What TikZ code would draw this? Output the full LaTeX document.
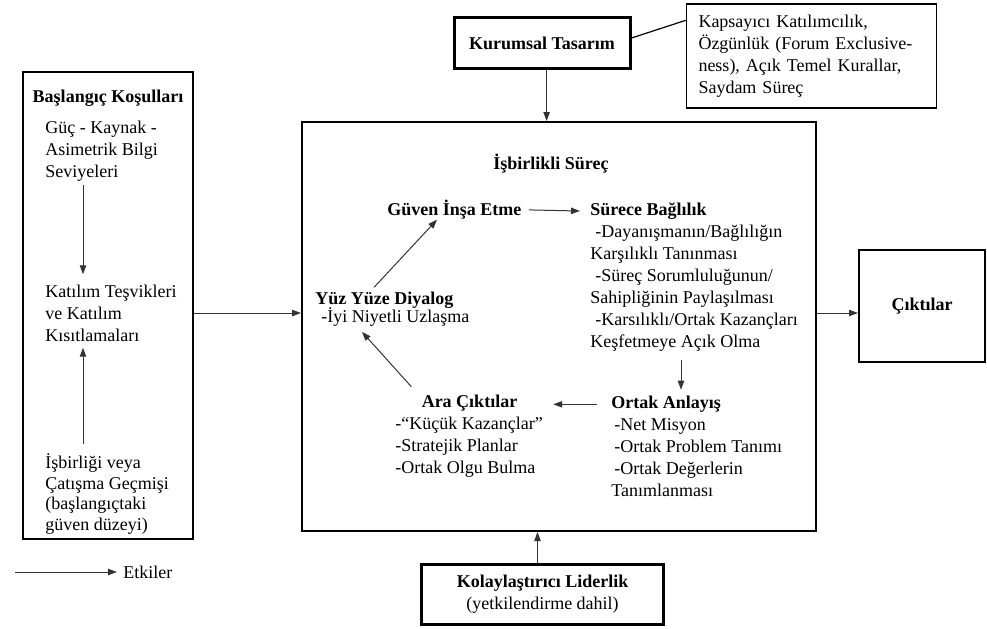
\documentclass[tikz,border=0pt]{standalone}
\usepackage{fontspec}
\setmainfont{Liberation Serif}
\usetikzlibrary{arrows.meta,positioning}
\tikzset{
  txt/.style={inner sep=0pt, font=\fontsize{9}{11}\selectfont, align=left},
  ttl/.style={txt, font=\fontsize{9}{11}\selectfont\bfseries},
  boxed/.style={draw, line width=#1},
  boxed/.default=0.7pt,
  arr/.style={draw=black!80, line width=0.5pt, -{Triangle[length=4.5pt,width=3.2pt]}}
}
\begin{document}
\begin{tikzpicture}[x=0.5pt,y=-0.5pt]
\useasboundingbox (0,0) rectangle (987,628);

% baslangic kosullari
\node[boxed, minimum width=85pt, minimum height=233.5pt] (init) at (108,305.5) {};
\node[ttl] (bas) at (108,98) {Başlangıç Koşulları};
\node[txt, anchor=west] (gks) at (45,151) {Güç - Kaynak -\\Asimetrik Bilgi\\Seviyeleri};
\node[txt, anchor=west] (kat) at (45,313) {Katılım Teşvikleri\\ve Katılım\\Kısıtlamaları};
\node[txt, anchor=west, font=\fontsize{9}{10.4}\selectfont] (isb) at (45,494) {İşbirliği veya\\Çatışma Geçmişi\\(başlangıçtaki\\güven düzeyi)};
\coordinate (lc) at (83,0);
\draw[arr, shorten <=1.5pt, shorten >=5pt] (gks.south -| lc) -- (kat.north -| lc);
\draw[arr, shorten <=4.5pt, shorten >=3pt] (isb.north -| lc) -- (kat.south -| lc);

% isbirlikli surec
\node[boxed=1pt, minimum width=257pt, minimum height=204.5pt] (proc) at (559,326.5) {};
\node[ttl] (procttl) at (551,164) {İşbirlikli Süreç};

\node[ttl, anchor=base west] (yuz) at (315,304.6) {Yüz Yüze Diyalog};
\node[txt, anchor=base west] (yuz1) at (321,322.6) {-İyi Niyetli Uzlaşma};
\node[ttl, anchor=base west] (guv) at (387,215.6) {Güven İnşa Etme};

\node[ttl, anchor=base west] (sur) at (590,215.6) {Sürece Bağlılık};
\node[txt, anchor=base west] (sur1) at ([yshift=-11pt]sur.base west) {\hspace*{2.5pt}-Dayanışmanın/Bağlılığın};
\foreach \x/\y/\z in {2/1/{Karşılıklı Tanınması}, 3/2/{\hspace*{2.5pt}-Süreç Sorumluluğunun/}, 4/3/{Sahipliğinin Paylaşılması}, 5/4/{\hspace*{2.5pt}-Karsılıklı/Ortak Kazançları}, 6/5/{Keşfetmeye Açık Olma}}
{
  \node[txt, anchor=base west] (sur\x) at ([yshift=-11pt]sur\y.base west) {\z};
}

\node[ttl, anchor=base west] (ort) at (611,408.6) {Ortak Anlayış};
\node[txt, anchor=base west] (ort1) at ([yshift=-11pt]ort.base west) {\hspace*{1.5pt}-Net Misyon};
\foreach \x/\y/\z in {2/1/{\hspace*{1.5pt}-Ortak Problem Tanımı}, 3/2/{\hspace*{1.5pt}-Ortak Değerlerin}, 4/3/{Tanımlanması}}
{
  \node[txt, anchor=base west] (ort\x) at ([yshift=-11pt]ort\y.base west) {\z};
}

\node[ttl, anchor=base] (ara) at (469.5,407.6) {Ara Çıktılar};
\node[txt, anchor=base west] (ara1) at (395,429.6) {-“Küçük Kazançlar”};
\foreach \x/\y/\z in {2/1/{-Stratejik Planlar}, 3/2/{-Ortak Olgu Bulma}}
{
  \node[txt, anchor=base west] (ara\x) at ([yshift=-11pt]ara\y.base west) {\z};
}

% dongu
\draw[arr, shorten <=3pt] ([xshift=27.5pt]yuz.north west) -- ([xshift=25pt]guv.south west);
\draw[arr, shorten <=3.5pt, shorten >=5pt] (guv.east) -- (sur.west);
\coordinate (c1) at ([xshift=35pt,yshift=3pt]ort.north west);
\draw[arr, shorten <=4pt] (sur6.south -| c1) -- (c1);
\draw[arr, shorten <=7pt, shorten >=5pt] (ort.west) -- (ort.west -| ara1.east);
\draw[arr] ([shift={(-5pt,4pt)}]ara.north west) -- ([xshift=20.5pt,yshift=-2.5pt]yuz1.south west);

% kurumsal tasarim
\node[boxed=1.5pt, ttl, minimum width=88pt, minimum height=25.5pt] (kur) at (542,43) {Kurumsal Tasarım};
\node[boxed, txt, text width=113pt, inner xsep=6pt, minimum height=52pt] (note) at (811.5,56) {Kapsayıcı Katılımcılık,\\Özgünlük (Forum Exclusive-\\ness), Açık Temel Kurallar,\\Saydam Süreç};
\draw[line width=0.6pt] ([yshift=2.5pt]kur.east) -- ([yshift=-8.5pt]note.north west);
\draw[arr] ([xshift=2.3pt]kur.south) -- ([xshift=2.3pt]kur.south |- proc.north);

% ciktilar
\node[boxed=1pt, ttl, minimum width=63pt, minimum height=56pt] (out) at (922,306) {Çıktılar};
\draw[arr] (init.east |- kat) -- (proc.west |- kat);
\draw[arr] (proc.east |- kat) -- (out.west |- kat);

% kolaylastirici liderlik
\node[boxed=1.5pt, txt, align=center, minimum width=121pt, minimum height=30pt] (led) at (542.5,594.5) {\textbf{Kolaylaştırıcı Liderlik}\\(yetkilendirme dahil)};
\draw[arr] ([xshift=-2.5pt]led.north) -- ([xshift=-2.5pt]led.north |- proc.south);

% lejant
\coordinate (lg) at (15,572);
\node[txt, anchor=west] (et) at (123,572) {Etkiler};
\draw[arr, shorten >=3pt] (lg) -- (et.west);
\end{tikzpicture}
\end{document}
